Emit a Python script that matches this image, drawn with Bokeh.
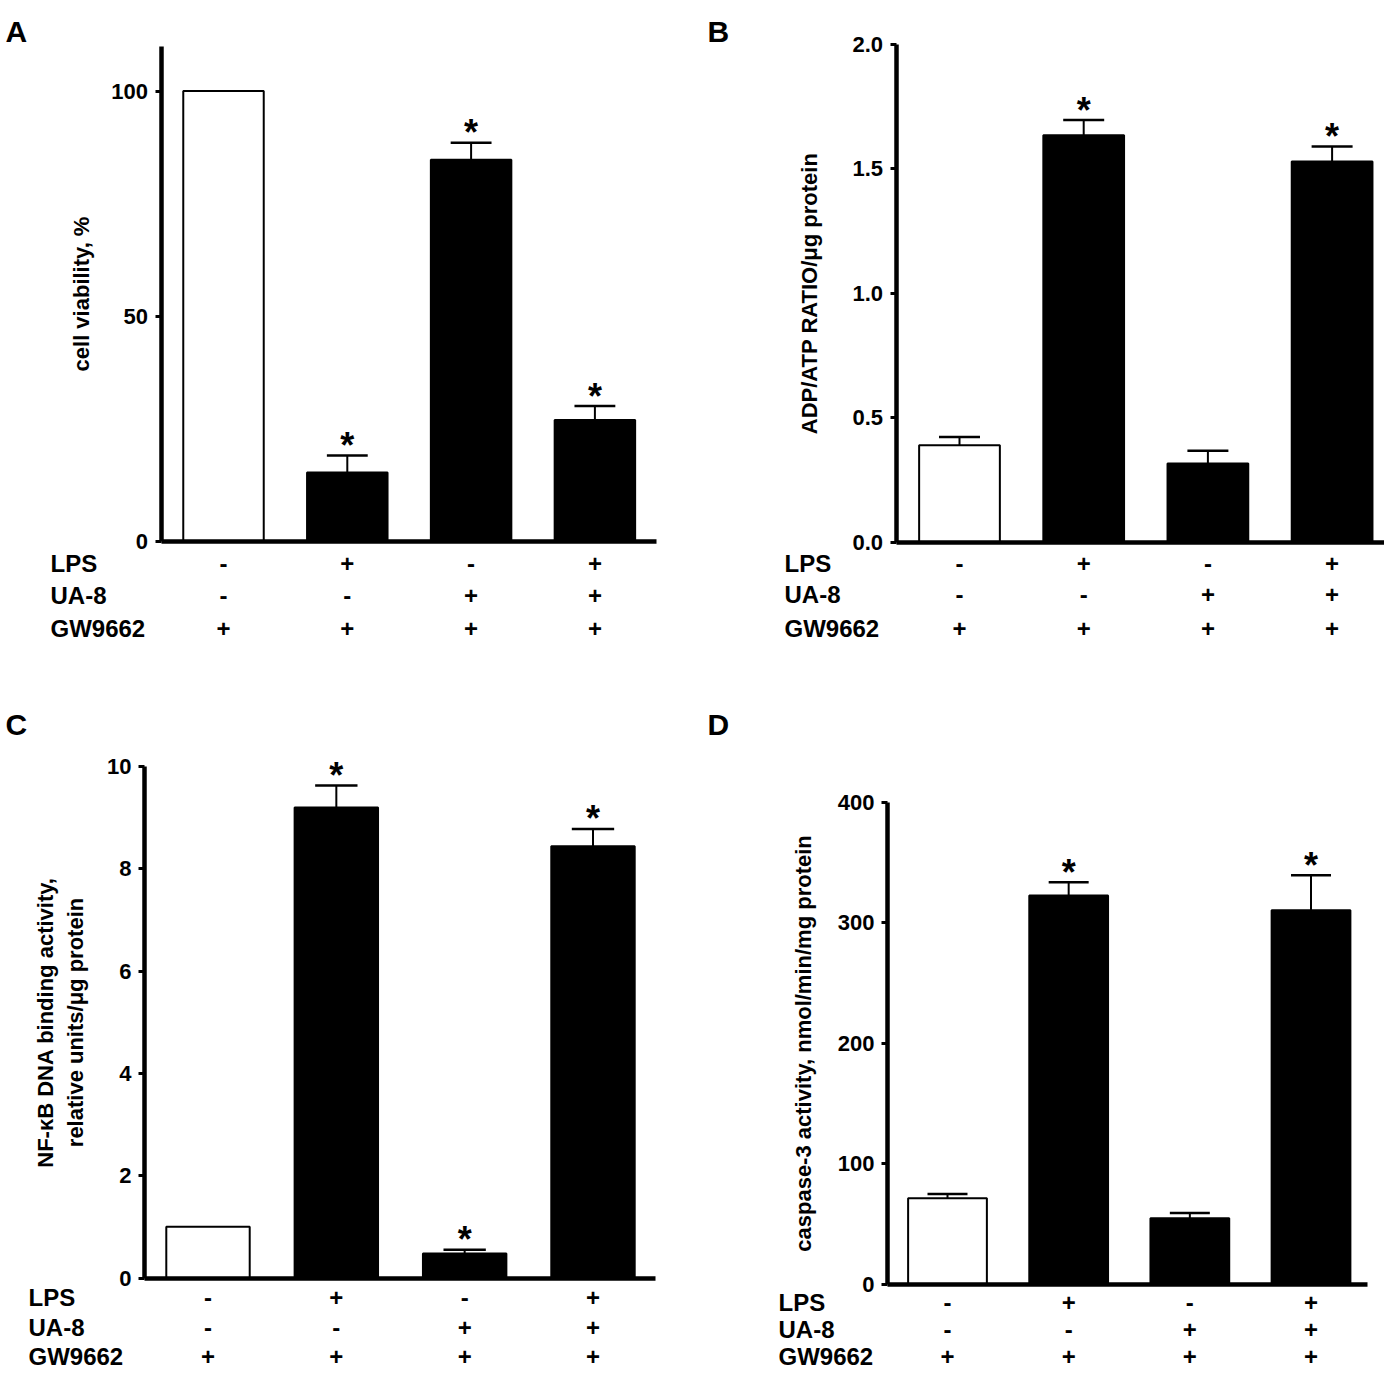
from bokeh.plotting import figure
from bokeh.layouts import gridplot
from bokeh.models import Range1d, FixedTicker, NumeralTickFormatter
from bokeh.embed import file_html
from bokeh.resources import INLINE
from bokeh.core.properties import value

FONT = "Liberation Sans"

# ---------------- data ----------------
row_names = ["LPS", "UA-8", "GW9662"]
lps = ["-", "+", "-", "+"]
ua8 = ["-", "-", "+", "+"]
gw9662 = ["+", "+", "+", "+"]

a_values = [100, 15.2, 84.7, 26.9]
a_sem = [0, 3.8, 3.8, 3.1]
a_sig = [False, True, True, True]
a_ticks = [0, 50, 100]
a_label = "cell viability, %"

b_values = [0.389, 1.635, 0.316, 1.530]
b_sem = [0.033, 0.061, 0.051, 0.060]
b_sig = [False, True, False, True]
b_ticks = [0, 0.5, 1.0, 1.5, 2.0]
b_label = "ADP/ATP RATIO/\u03bcg protein"

c_values = [1.0, 9.2, 0.48, 8.44]
c_sem = [0, 0.43, 0.07, 0.34]
c_sig = [False, True, True, True]
c_ticks = [0, 2, 4, 6, 8, 10]
c_label = "NF-\u03baB DNA binding activity,\nrelative units/\u03bcg protein"

d_values = [71.2, 322.6, 54.6, 310.4]
d_sem = [3.6, 11.0, 4.4, 29.1]
d_sig = [False, True, False, True]
d_ticks = [0, 100, 200, 300, 400]
d_label = "caspase-3 activity, nmol/min/mg protein"

bar_colors = ["white", "black", "black", "black"]


def panel(letter, values, sem, sig, ticks, ylabel, fmt, lay):
    W, H = lay["size"]
    x0, dx = lay["x0"], lay["dx"]      # pixel of category 0, pixels per category
    y0, ppu = lay["y0"], lay["ppu"]    # pixel of value 0, pixels per unit

    def px2x(px):
        return (px - x0) / dx

    def px2y(py):
        return (y0 - py) / ppu

    p = figure(width=W, height=H, output_backend="svg", toolbar_location=None,
               x_range=Range1d(px2x(0), px2x(W)), y_range=Range1d(px2y(H), px2y(0)),
               min_border=0, min_border_left=0, min_border_right=0,
               min_border_top=0, min_border_bottom=0)
    p.outline_line_color = None
    p.grid.visible = False
    p.background_fill_color = "white"
    p.border_fill_color = "white"

    idx = list(range(len(values)))
    p.vbar(x=idx, top=values, bottom=0, width=0.65, fill_color=bar_colors,
           line_color="black", line_width=2)

    ex = [i for i in idx if sem[i] > 0]
    ev = [values[i] for i in ex]
    et = [values[i] + sem[i] for i in ex]
    p.segment(x0=ex, y0=ev, x1=ex, y1=et, line_color="black", line_width=2)
    cap = 0.165
    p.segment(x0=[i - cap for i in ex], y0=et, x1=[i + cap for i in ex], y1=et,
              line_color="black", line_width=2.5)

    si = [i for i in idx if sig[i]]
    pad = lay["star_pad"] / ppu
    st = [values[i] + sem[i] + pad for i in si]
    p.text(x=si, y=st, text=["*"] * len(si), text_align="center",
           text_baseline="alphabetic", text_font=value(FONT),
           text_font_style="bold", text_font_size="36px", text_color="black")

    yax_x = px2x(lay["yaxis_px"])

    # y axis
    ya = p.yaxis[0]
    ya.fixed_location = yax_x
    ya.bounds = (0, lay["ytop"])
    ya.ticker = FixedTicker(ticks=ticks)
    ya.formatter = NumeralTickFormatter(format=fmt)
    ya.axis_line_width = 4.5
    ya.major_tick_line_width = 3
    ya.major_tick_out = 6
    ya.major_tick_in = 0
    ya.minor_tick_line_color = None
    ya.major_label_text_font = FONT
    ya.major_label_text_font_style = "bold"
    ya.major_label_text_font_size = "22px"
    ya.major_label_text_color = "black"
    ya.major_label_standoff = 7
    ya.axis_label = ylabel
    ya.axis_label_text_font = FONT
    ya.axis_label_text_font_style = "bold"
    ya.axis_label_text_font_size = "22px"
    ya.axis_label_text_color = "black"
    ya.axis_label_standoff = lay["lab_standoff"]

    # x axis (line only)
    xa = p.xaxis[0]
    xa.fixed_location = 0
    xa.bounds = (yax_x, px2x(lay["xend_px"]))
    xa.ticker = FixedTicker(ticks=[])
    xa.axis_line_width = 4.5
    xa.major_tick_line_color = None
    xa.minor_tick_line_color = None

    # treatment table under the axis
    rows = [lps, ua8, gw9662]
    ry = [px2y(r) for r in lay["rows"]]
    p.text(x=[px2x(lay["row_x"])] * 3, y=ry, text=row_names, text_align="left",
           text_baseline="middle", text_font=value(FONT), text_font_style="bold",
           text_font_size="24px", text_color="black")
    tx, tyy, tt = [], [], []
    for r, signs in enumerate(rows):
        for i, s in enumerate(signs):
            tx.append(i)
            tyy.append(ry[r])
            tt.append(s)
    p.text(x=tx, y=tyy, text=tt, text_align="center", text_baseline="middle",
           text_font=value(FONT), text_font_style="bold", text_font_size="24px",
           text_color="black")

    # panel letter
    p.text(x=[px2x(lay["letter"][0])], y=[px2y(lay["letter"][1])], text=[letter],
           text_align="left", text_baseline="alphabetic", text_font=value(FONT),
           text_font_style="bold", text_font_size="30px", text_color="black")
    return p


lay_a = dict(size=(703, 660), x0=223, dx=123.8, y0=540.5, ppu=4.5, yaxis_px=160.5,
             xend_px=656, ytop=110, rows=[563, 595, 628], row_x=50, letter=(5, 31),
             lab_standoff=15, star_pad=10)
lay_b = dict(size=(681, 660), x0=256, dx=124.2, y0=541.5, ppu=248.75, yaxis_px=192.5,
             xend_px=690, ytop=2.0, rows=[562.5, 594, 627.5], row_x=81, letter=(4, 31),
             lab_standoff=28, star_pad=10)
lay_c = dict(size=(703, 710), x0=207.5, dx=128.33, y0=617.5, ppu=51.15, yaxis_px=144,
             xend_px=655, ytop=10, rows=[637, 667, 696], row_x=28, letter=(5, 64),
             lab_standoff=16, star_pad=10)
lay_d = dict(size=(681, 710), x0=244, dx=121.17, y0=623.5, ppu=1.204, yaxis_px=184,
             xend_px=664, ytop=400, rows=[642, 669, 696], row_x=75, letter=(4, 64),
             lab_standoff=19, star_pad=10)

pa = panel("A", a_values, a_sem, a_sig, a_ticks, a_label, "0", lay_a)
pb = panel("B", b_values, b_sem, b_sig, b_ticks, b_label, "0.0", lay_b)
pc = panel("C", c_values, c_sem, c_sig, c_ticks, c_label, "0", lay_c)
pd = panel("D", d_values, d_sem, d_sig, d_ticks, d_label, "0", lay_d)

grid = gridplot([[pa, pb], [pc, pd]], toolbar_location=None)

open("out.html", "w").write(file_html(grid, INLINE))
